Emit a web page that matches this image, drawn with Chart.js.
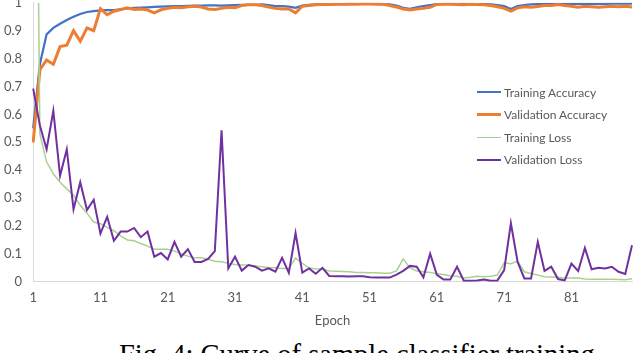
<!DOCTYPE html>
<html>
<head>
<meta charset="utf-8">
<script src="https://cdn.jsdelivr.net/npm/chart.js@4/dist/chart.umd.min.js"></script>
<style>
  body { margin: 0; background: #fff; }
  #page { position: relative; width: 640px; height: 353px; overflow: hidden; }
  #wrap { position: absolute; left: 0; top: -16px; width: 640px; height: 347px; }
  #legend { position: absolute; left: 477px; top: 81px; font: 12px Lato, sans-serif; color: #595959; }
  .row { height: 22.5px; display: flex; align-items: center; }
  .swatch { width: 24px; margin-right: 3px; }
  #caption { position: absolute; left: 119px; top: 341px; font: 28.5px "Liberation Serif", serif; line-height: 28px; white-space: nowrap; color: #000; }
</style>
</head>
<body>
<div id="page">
  <div id="wrap"><canvas id="chart"></canvas></div>
  <div id="legend"></div>
  <div id="caption">Fig. 4: Curve of sample classifier training</div>
</div>
<script>
// epochs 1..90 on the category axis
var epochs = []
for (var i = 1; i <= 90; i++) epochs.push(String(i))

var yTicks = [0, 0.1, 0.2, 0.3, 0.4, 0.5, 0.6, 0.7, 0.8, 0.9, 1]

var trainAcc = [
  0.55, 0.78, 0.887, 0.91, 0.925, 0.938, 0.95, 0.96, 0.967, 0.97,
  0.973, 0.974, 0.974, 0.976, 0.98, 0.982, 0.983, 0.984, 0.985, 0.986,
  0.987, 0.988, 0.988, 0.989, 0.99, 0.99, 0.991, 0.991, 0.99, 0.991,
  0.992, 0.993, 0.993, 0.993, 0.994, 0.992, 0.988, 0.988, 0.986, 0.982,
  0.99, 0.993, 0.994, 0.994, 0.995, 0.995, 0.995, 0.996, 0.996, 0.996,
  0.996, 0.996, 0.995, 0.994, 0.99, 0.982, 0.978, 0.984, 0.988, 0.992,
  0.995, 0.996, 0.996, 0.996, 0.996, 0.996, 0.995, 0.995, 0.994, 0.992,
  0.988, 0.978, 0.988, 0.992, 0.994, 0.995, 0.995, 0.996, 0.996, 0.996,
  0.996, 0.996, 0.996, 0.996, 0.996, 0.996, 0.997, 0.997, 0.997, 0.997
]

var valAcc = [
  0.5, 0.76, 0.795, 0.78, 0.843, 0.848, 0.9, 0.862, 0.91, 0.9,
  0.979, 0.957, 0.97, 0.976, 0.982, 0.976, 0.978, 0.974, 0.964, 0.975,
  0.98, 0.984, 0.982, 0.986, 0.988, 0.985, 0.978, 0.976, 0.98, 0.984,
  0.982, 0.99, 0.993, 0.993, 0.99, 0.985, 0.98, 0.978, 0.978, 0.964,
  0.988, 0.99, 0.993, 0.994, 0.994, 0.995, 0.995, 0.996, 0.995, 0.996,
  0.996, 0.995, 0.995, 0.99, 0.985, 0.978, 0.974, 0.978, 0.98, 0.984,
  0.994, 0.995, 0.995, 0.994, 0.993, 0.995, 0.994, 0.993, 0.99, 0.986,
  0.98, 0.97, 0.982, 0.986, 0.984, 0.987, 0.99, 0.99, 0.994, 0.99,
  0.988, 0.984, 0.988, 0.986, 0.984, 0.986, 0.988, 0.986, 0.988, 0.985
]

var trainLoss = [
  3.0, 0.53, 0.43, 0.387, 0.357, 0.333, 0.31, 0.274, 0.246, 0.214,
  0.208, 0.195, 0.183, 0.165, 0.15, 0.147, 0.137, 0.128, 0.117, 0.117,
  0.117, 0.11, 0.1, 0.092, 0.086, 0.086, 0.081, 0.074, 0.072, 0.066,
  0.062, 0.06, 0.06, 0.057, 0.054, 0.051, 0.05, 0.048, 0.048, 0.085,
  0.066, 0.05, 0.046, 0.046, 0.039, 0.038, 0.037, 0.036, 0.033, 0.033,
  0.032, 0.032, 0.031, 0.031, 0.039, 0.082, 0.05, 0.039, 0.036, 0.033,
  0.029, 0.026, 0.021, 0.02, 0.014, 0.016, 0.02, 0.018, 0.02, 0.024,
  0.068, 0.065, 0.074, 0.036, 0.03, 0.024, 0.018, 0.017, 0.016, 0.014,
  0.014, 0.014, 0.01, 0.009, 0.009, 0.009, 0.009, 0.008, 0.007, 0.011
]

var valLoss = [
  0.693, 0.56, 0.475, 0.613, 0.38, 0.475, 0.26, 0.357, 0.257, 0.294,
  0.173, 0.233, 0.147, 0.18, 0.18, 0.193, 0.16, 0.18, 0.09, 0.103,
  0.08, 0.143, 0.09, 0.117, 0.071, 0.071, 0.082, 0.11, 0.543, 0.048,
  0.09, 0.04, 0.06, 0.054, 0.04, 0.048, 0.036, 0.086, 0.032, 0.175,
  0.033, 0.048, 0.029, 0.05, 0.021, 0.02, 0.02, 0.019, 0.02, 0.02,
  0.016, 0.015, 0.015, 0.015, 0.026, 0.039, 0.057, 0.054, 0.016, 0.101,
  0.025, 0.008, 0.008, 0.054, 0.004, 0.004, 0.005, 0.008, 0.004, 0.005,
  0.042, 0.21, 0.071, 0.012, 0.012, 0.143, 0.039, 0.054, 0.01, 0.005,
  0.065, 0.039, 0.121, 0.045, 0.05, 0.048, 0.054, 0.036, 0.028, 0.131
]

var seriesNames = ['Training Accuracy', 'Validation Accuracy', 'Training Loss', 'Validation Loss']
var seriesColors = ['#4472C4', '#ED7D31', '#A9D18E', '#7030A0']
var seriesWidths = [2.25, 3, 1.5, 2]
var seriesData = [trainAcc, valAcc, trainLoss, valLoss]

var datasets = []
for (var s = 0; s < seriesNames.length; s++) {
  datasets.push({
    label: seriesNames[s],
    data: seriesData[s],
    borderColor: seriesColors[s],
    backgroundColor: seriesColors[s],
    borderWidth: seriesWidths[s],
    pointRadius: 0,
    tension: 0,
    order: seriesNames.length - s   // later series drawn on top, like Excel
  })
}

var tickFont = { family: 'Lato', size: 13 }

var chart = new Chart(document.getElementById('chart'), {
  type: 'line',
  data: { labels: epochs, datasets: datasets },
  options: {
    responsive: true,
    maintainAspectRatio: false,
    animation: false,
    layout: { padding: { left: -7, right: 3, top: 0, bottom: 0 } },
    plugins: { legend: { display: false }, tooltip: { enabled: false } },
    scales: {
      x: {
        offset: false,
        grid: { display: false, drawTicks: false },
        border: { color: '#d9d9d9', width: 1 },
        ticks: {
          autoSkip: false,
          maxRotation: 0,
          padding: 8,
          color: '#595959',
          font: tickFont,
          callback: function (v, i) { return i % 10 === 0 ? epochs[i] : '' }
        },
        title: { display: true, text: 'Epoch', color: '#595959', font: tickFont, padding: { top: 0, bottom: 2 } }
      },
      y: {
        min: 0,
        max: 1,
        afterBuildTicks: function (axis) {
          axis.ticks = yTicks.map(function (v) { return { value: v } })
        },
        grid: { display: false, drawTicks: false },
        border: { color: '#d9d9d9', width: 1 },
        ticks: {
          padding: 11,
          color: '#595959',
          font: tickFont,
          callback: function (v) { return String(v) }
        }
      }
    }
  }
})

// legend drawn beside the plot, built from the chart's datasets
var legend = document.getElementById('legend')
chart.data.datasets.forEach(function (ds) {
  var row = document.createElement('div')
  row.className = 'row'
  var sw = document.createElement('div')
  sw.className = 'swatch'
  sw.style.borderTop = ds.borderWidth + 'px solid ' + ds.borderColor
  var txt = document.createElement('span')
  txt.textContent = ds.label
  row.appendChild(sw)
  row.appendChild(txt)
  legend.appendChild(row)
})
</script>
</body>
</html>
